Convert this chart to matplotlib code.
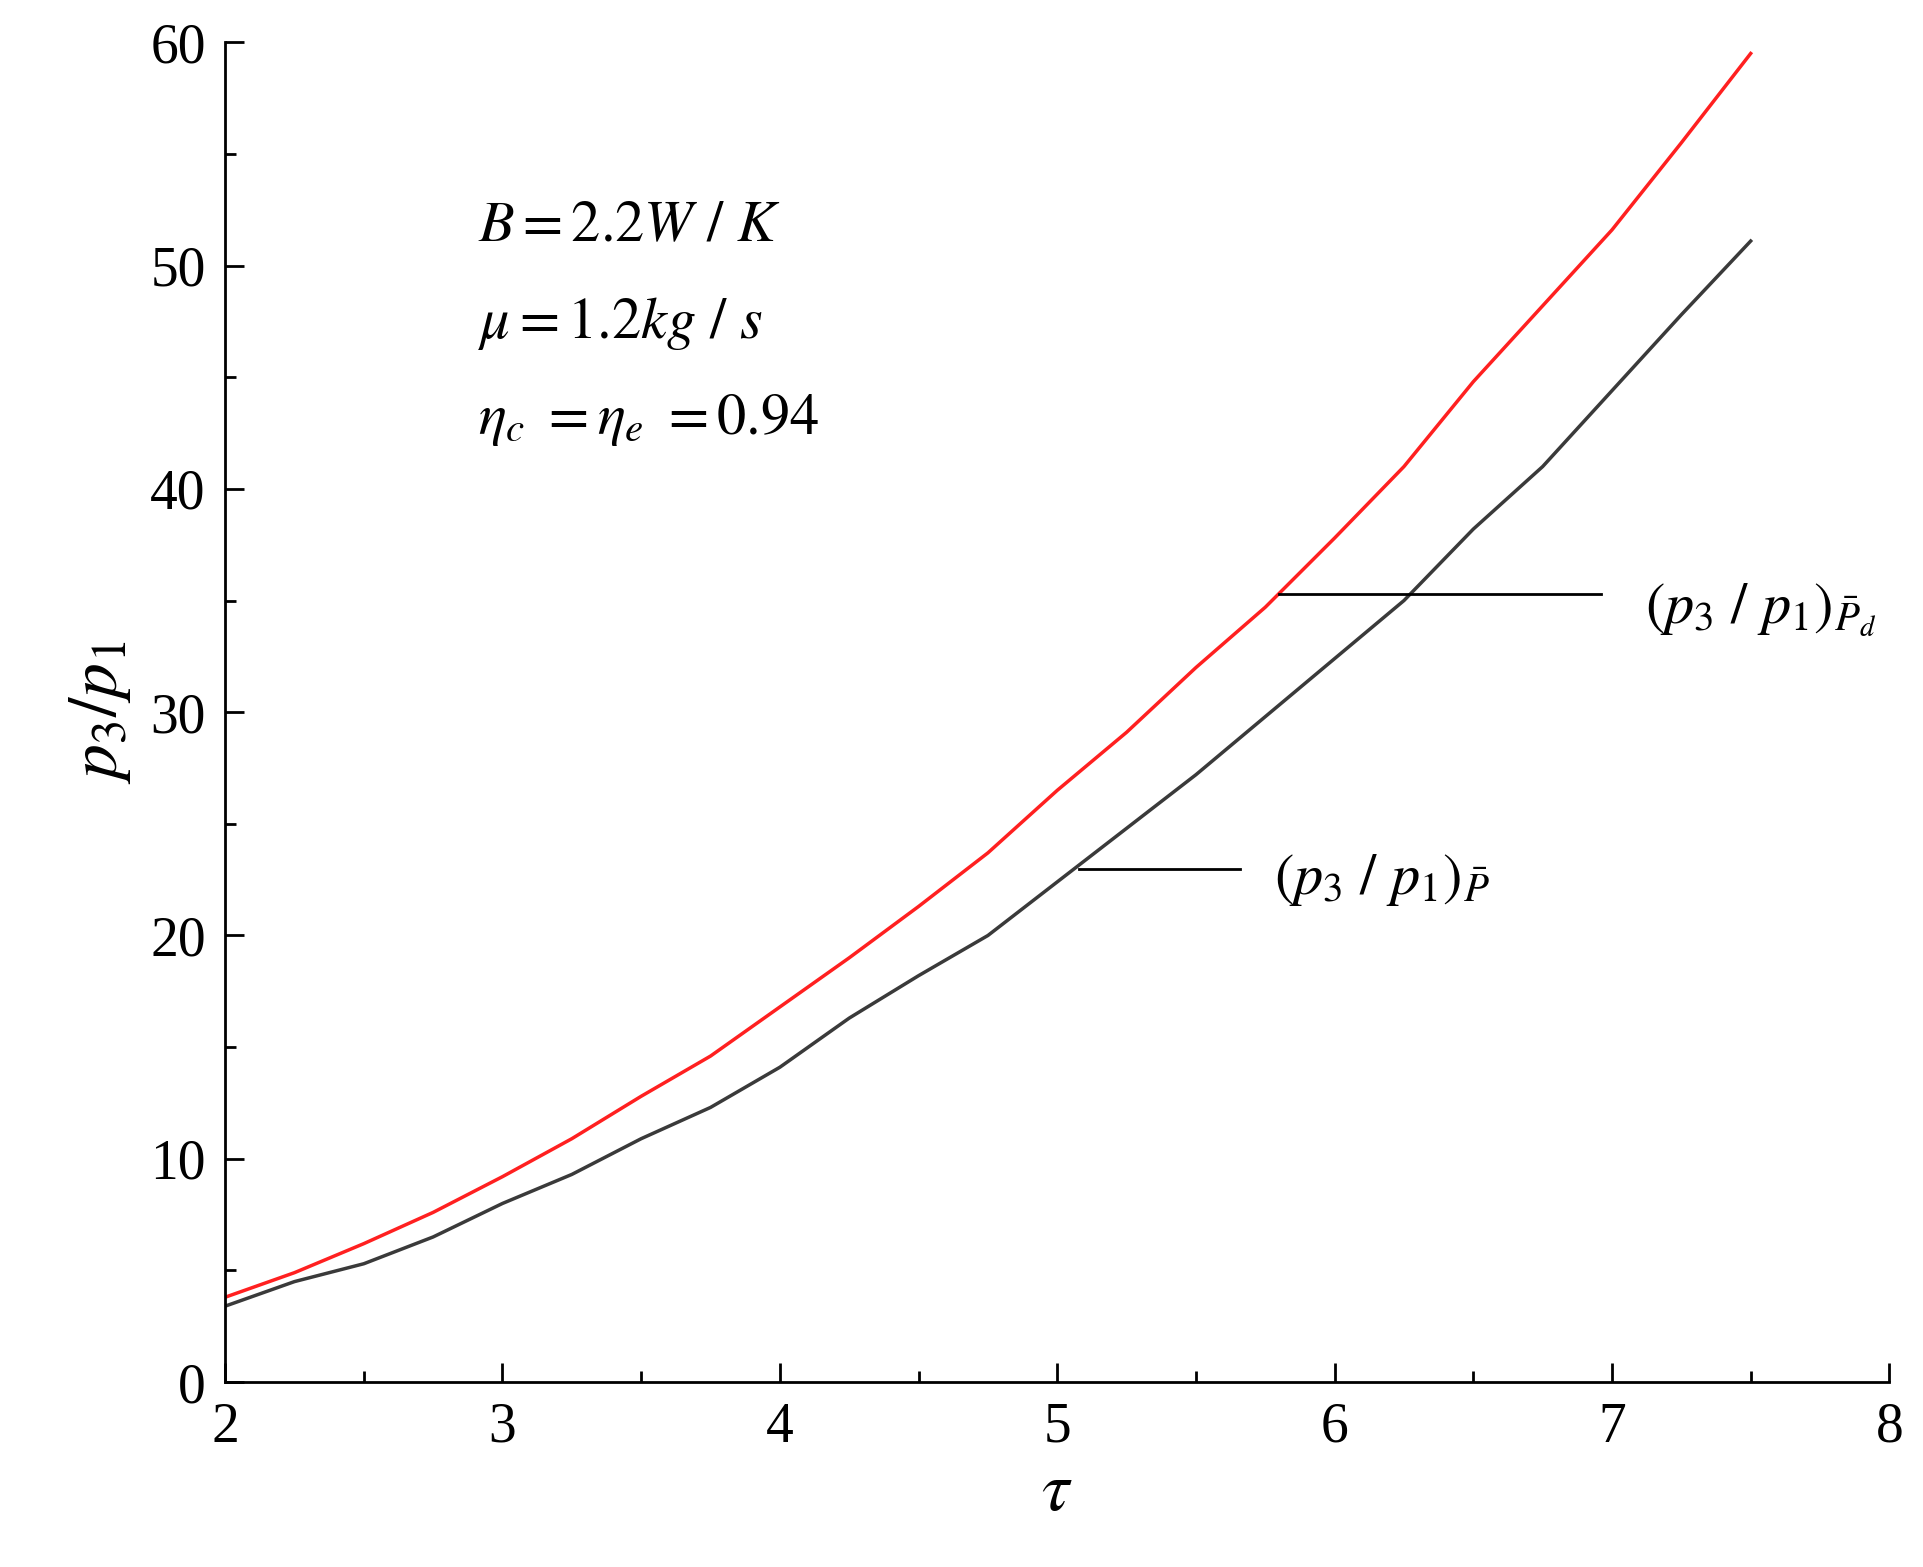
import matplotlib
matplotlib.use("Agg")
import matplotlib.pyplot as plt
from matplotlib.ticker import MultipleLocator

tau = [2, 2.25, 2.5, 2.75, 3, 3.25, 3.5, 3.75, 4, 4.25, 4.5, 4.75, 5, 5.25, 5.5, 5.75, 6, 6.25, 6.5, 6.75, 7, 7.25, 7.5]
p_pd = [3.8, 4.9, 6.2, 7.6, 9.2, 10.9, 12.8, 14.6, 16.8, 19.0, 21.3, 23.7, 26.5, 29.1, 32.0, 34.7, 37.8, 41.0, 44.8, 48.2, 51.6, 55.5, 59.5]
p_p = [3.4, 4.5, 5.3, 6.5, 8.0, 9.3, 10.9, 12.3, 14.1, 16.3, 18.2, 20.0, 22.4, 24.8, 27.2, 29.8, 32.4, 35.0, 38.2, 41.0, 44.4, 47.8, 51.1]

plt.rcParams['font.family'] = ['Liberation Serif', 'DejaVu Serif']
plt.rcParams['mathtext.fontset'] = 'stix'

fig = plt.figure(figsize=(19.24, 15.67), dpi=100)
ax = fig.add_axes([0.117, 0.118, 0.865, 0.855])
ax.plot(tau, p_pd, color='#ff2020', lw=2.5)
ax.plot(tau, p_p, color='#3a3a3a', lw=2.5)
ax.set_xlim(2, 8)
ax.set_ylim(0, 60)
for s in ['top', 'right']:
    ax.spines[s].set_visible(False)
for s in ['left', 'bottom']:
    ax.spines[s].set_linewidth(2)
ax.xaxis.set_major_locator(MultipleLocator(1))
ax.xaxis.set_minor_locator(MultipleLocator(0.5))
ax.yaxis.set_major_locator(MultipleLocator(10))
ax.yaxis.set_minor_locator(MultipleLocator(5))
ax.tick_params(which='both', direction='in', width=2, labelsize=40)
ax.tick_params(which='major', length=14)
ax.tick_params(which='minor', length=8)
ax.tick_params(axis='x', pad=14)
ax.tick_params(axis='y', pad=14)
ax.set_xlabel(r'$\tau$', fontsize=50, labelpad=6)
ax.set_ylabel(r'$p_3/p_1$', fontsize=50, labelpad=12)

ax.text(2.91, 51.7, r'$B=2.2W\ /\ K$', fontsize=42, va='center')
ax.text(2.91, 47.4, r'$\mu=1.2kg\ /\ s$', fontsize=42, va='center')
ax.text(2.91, 43.1, r'$\eta_c\ =\eta_e\ =0.94$', fontsize=42, va='center')

ax.plot([5.8, 6.96], [35.3, 35.3], color='black', lw=2)
ax.text(7.12, 34.6, r'$(p_3\ /\ p_1)_{\bar{P}_d}$', fontsize=42, va='center')
ax.plot([5.08, 5.66], [23.0, 23.0], color='black', lw=2)
ax.text(5.78, 22.5, r'$(p_3\ /\ p_1)_{\bar{P}}$', fontsize=42, va='center')

fig.savefig('out.png', dpi=100, facecolor='white')
